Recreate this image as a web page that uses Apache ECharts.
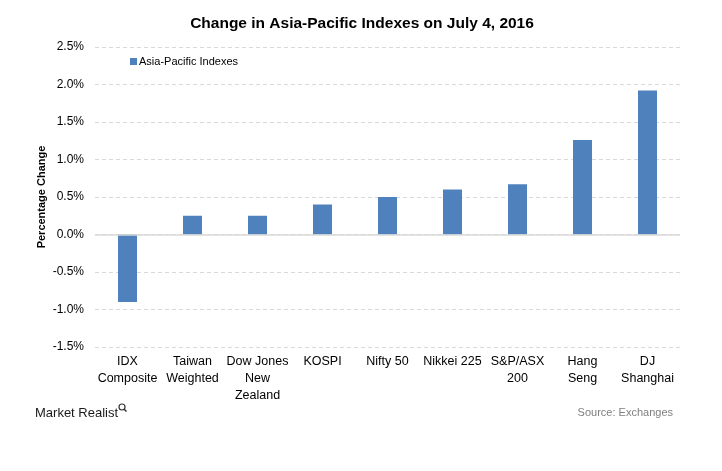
<!DOCTYPE html>
<html>
<head>
<meta charset="utf-8">
<script src="https://cdn.jsdelivr.net/npm/echarts@6/dist/echarts.min.js"></script>
<style>
html,body{margin:0;padding:0;background:#fff;}
#chart{width:722px;height:471px;}
</style>
</head>
<body>
<div id="chart"></div>
<script>
const categories = ['IDX\nComposite', 'Taiwan\nWeighted', 'Dow Jones\nNew\nZealand', 'KOSPI', 'Nifty 50', 'Nikkei 225', 'S&P/ASX\n200', 'Hang\nSeng', 'DJ\nShanghai'];
const seriesName = 'Asia-Pacific Indexes';
const values = [-0.90, 0.25, 0.25, 0.40, 0.50, 0.60, 0.67, 1.26, 1.92];
const yMin = -1.5, yMax = 2.5, yStep = 0.5;

const FONT = '"Liberation Sans", Arial, sans-serif';
const chart = echarts.init(document.getElementById('chart'), null, {renderer: 'canvas'});
chart.setOption({
  backgroundColor: '#ffffff',
  animation: false,
  title: {
    text: 'Change in Asia-Pacific Indexes on July 4, 2016',
    left: 357, top: 11, textAlign: 'center',
    textStyle: {fontFamily: FONT, fontSize: 15.5, fontWeight: 'bold', color: '#000'}
  },
  legend: {
    left: 125, top: 51,
    itemWidth: 7, itemHeight: 7, itemGap: 5,
    icon: 'rect',
    textStyle: {fontFamily: FONT, fontSize: 11, color: '#000', padding: [0,0,0,-3]},
    data: [seriesName]
  },
  grid: {left: 95, right: 42, top: 47, bottom: 124, containLabel: false},
  xAxis: {
    type: 'category',
    data: categories,
    axisLine: {show: false},
    axisTick: {show: false},
    axisLabel: {fontFamily: FONT, fontSize: 12.5, color: '#000', lineHeight: 17, margin: 6, interval: 0}
  },
  yAxis: {
    type: 'value',
    min: yMin, max: yMax, interval: yStep,
    name: 'Percentage Change',
    nameLocation: 'middle',
    nameGap: 48,
    nameMoveOverlap: false,
    nameTextStyle: {fontFamily: FONT, fontSize: 11, fontWeight: 'bold', color: '#000'},
    axisLine: {show: false},
    axisTick: {show: false},
    axisLabel: {fontFamily: FONT, fontSize: 12, color: '#000', margin: 11,
      formatter: v => v.toFixed(1) + '%'},
    splitLine: {lineStyle: {color: '#D9D9D9', type: [4, 3], width: 1}}
  },
  series: [{
    name: seriesName,
    type: 'bar',
    data: values,
    barWidth: 19,
    itemStyle: {color: '#4F81BD'},
    markLine: {
      silent: true, symbol: 'none', label: {show: false},
      lineStyle: {color: '#D9D9D9', type: 'solid', width: 1.5},
      data: [{yAxis: 0}]
    }
  }],
  graphic: [
    {type: 'text', left: 35, top: 407,
     style: {text: 'Market Realist', font: '13px ' + FONT, fill: '#1a1a1a'}},
    {type: 'circle', shape: {cx: 122, cy: 407, r: 3}, style: {fill: 'none', stroke: '#333', lineWidth: 1.2}},
    {type: 'line', shape: {x1: 124, y1: 409, x2: 126.5, y2: 411.5}, style: {stroke: '#333', lineWidth: 1.5}},
    {type: 'text', right: 49, top: 407,
     style: {text: 'Source: Exchanges', font: '11px ' + FONT, fill: '#7f7f7f'}}
  ]
});
</script>
</body>
</html>
